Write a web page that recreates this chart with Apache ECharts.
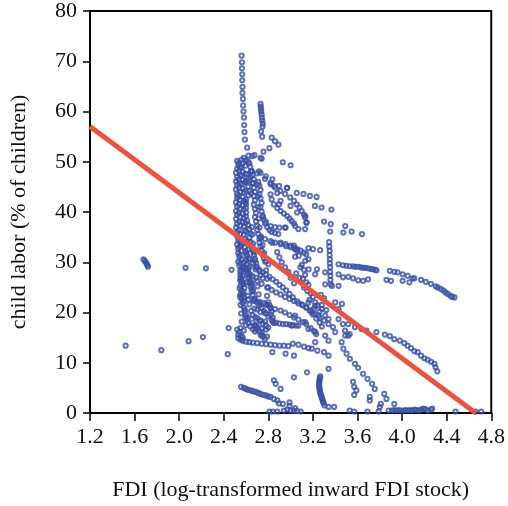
<!DOCTYPE html>
<html><head><meta charset="utf-8">
<script src="https://cdn.jsdelivr.net/npm/echarts@6/dist/echarts.min.js"></script>
<style>html,body{margin:0;padding:0;background:#fff}#c{width:508px;height:506px}</style>
</head><body><div id="c"></div>
<script>
const xTicks = ['1.2','1.6','2.0','2.4','2.8','3.2','3.6','4.0','4.4','4.8'];
const yTicks = ['0','10','20','30','40','50','60','70','80'];
const xTitle = 'FDI (log-transformed inward FDI stock)';
const yTitle = 'child labor (% of children)';
const fitLine = [[1.2,57.0],[4.66,0]];

const tallColumn = [[2.56,71.1],[2.563,69.8],[2.563,68.6],[2.566,67.4],[2.566,66.2],[2.568,64.9],[2.568,63.7],[2.572,62.5],[2.574,61.2],[2.577,60.0],[2.581,58.8],[2.583,57.3],[2.586,55.9],[2.59,54.4],[2.61,52.8],[2.622,51.2],[2.63,49.7],[2.65,48.1]];

const upperCluster = [[2.73,61.5],[2.732,61.0],[2.735,60.5],[2.736,60.0],[2.74,59.4],[2.742,58.8],[2.745,58.2],[2.75,57.6],[2.748,57.0],[2.735,56.0],[2.745,55.0],[2.756,52.0],[2.74,50.6],[2.676,51.3],[2.81,52.7],[2.83,54.8],[2.86,54.1],[2.89,53.4],[2.93,49.9],[3.0,49.3],[2.58,50.8],[2.6,50.3],[2.62,50.0],[2.656,51.1],[2.73,50.8],[2.644,48.1],[2.6,46.2],[2.66,45.8],[2.717,48.1],[2.777,47.1],[2.836,46.5],[2.895,45.2],[2.97,44.8]];

const denseCore = [
[2.52,50.2],[2.53,49.4],[2.52,48.6],[2.51,47.8],[2.52,47.0],[2.51,46.1],[2.52,45.3],[2.51,44.5],[2.52,43.6],[2.52,42.8],[2.51,41.9],[2.52,41.1],[2.51,40.2],[2.52,39.4],[2.51,38.6],[2.52,37.7],[2.51,36.9],[2.52,36.0],[2.52,35.2],[2.53,34.4],[2.52,33.5],[2.53,32.7],[2.53,31.8],[2.54,31.0],[2.53,30.1],[2.54,29.3],[2.55,28.4],[2.55,27.6],[2.56,26.7],[2.57,25.9],
[2.56,50.4],[2.57,49.7],[2.56,48.9],[2.57,48.0],[2.56,47.2],[2.57,46.4],[2.56,45.5],[2.57,44.7],[2.58,43.9],[2.57,43.0],[2.58,42.2],[2.57,41.3],[2.58,40.5],[2.57,39.7],[2.58,38.8],[2.57,38.0],[2.58,37.1],[2.59,36.3],[2.58,35.5],[2.59,34.6],[2.6,33.8],[2.59,33.0],[2.6,32.1],[2.61,31.3],[2.6,30.4],[2.61,29.6],[2.62,28.8],[2.62,27.9],[2.63,27.1],[2.64,26.2],[2.65,25.4],[2.66,24.6],
[2.61,47.5],[2.62,46.7],[2.61,45.9],[2.62,45.0],[2.63,44.2],[2.62,43.3],[2.6,42.5],[2.6,41.6],[2.6,40.8],[2.6,39.9],[2.6,39.1],[2.61,38.3],[2.62,37.4],[2.63,36.6],[2.64,35.7],[2.63,34.9],[2.64,34.0],[2.65,33.2],[2.66,32.4],[2.67,31.5],[2.68,30.7],[2.69,29.9],[2.7,29.0],[2.72,28.2],[2.73,27.5],[2.75,26.8],
[2.65,48.2],[2.66,47.4],[2.67,46.5],[2.66,45.7],[2.67,44.8],[2.68,44.0],[2.67,43.2],[2.68,42.3],[2.67,41.5],[2.68,40.6],[2.69,39.8],[2.68,39.0],[2.69,38.1],[2.7,37.3],[2.7,36.4],[2.71,35.6],[2.72,34.7],[2.72,33.9],[2.73,33.1],[2.74,32.3],[2.75,31.5],[2.76,30.8],[2.78,30.2],[2.8,29.6],
[2.71,46.0],[2.72,45.2],[2.73,44.4],[2.72,43.5],[2.73,42.7],[2.74,41.8],[2.73,41.0],[2.74,40.1],[2.75,39.3],[2.76,38.5],[2.77,37.7],[2.79,37.0],[2.81,36.4],[2.83,36.0],[2.86,35.8],[2.89,35.6],
[2.55,27.0],[2.56,26.1],[2.55,25.3],[2.56,24.4],[2.57,23.6],[2.56,22.7],[2.57,21.9],[2.58,21.0],[2.59,20.2],[2.6,19.4],[2.61,18.6],[2.62,17.9],[2.64,17.2],[2.66,16.7],[2.68,16.2],
[2.6,28.5],[2.61,27.7],[2.62,26.8],[2.63,26.0],[2.64,25.1],[2.65,24.3],[2.66,23.5],[2.68,22.7],[2.7,22.0],[2.72,21.4],[2.74,20.9],[2.76,20.3],[2.78,19.8],[2.8,19.2]
];

const denseFill = [
[2.535,49.8],[2.538,48.2],[2.532,46.5],[2.536,44.9],[2.531,43.2],[2.537,41.5],[2.533,39.8],[2.538,38.1],[2.534,36.4],[2.539,34.8],[2.541,33.1],[2.544,31.4],[2.546,29.8],[2.551,28.1],[2.548,26.4],[2.543,24.8],[2.546,23.1],[2.551,21.5],[2.556,19.8],[2.561,18.2],[2.55,16.9],
[2.545,49.0],[2.548,47.4],[2.543,45.7],[2.549,44.0],[2.544,42.4],[2.548,40.7],[2.545,39.0],[2.549,37.3],[2.546,35.6],[2.552,34.0],[2.556,32.3],[2.561,30.6],[2.566,29.0],[2.571,27.3],[2.576,25.6],[2.579,24.0],[2.584,22.3],[2.589,20.6],[2.594,19.0],[2.598,17.5],
[2.593,49.2],[2.596,47.6],[2.591,45.9],[2.597,44.3],[2.594,42.0],[2.596,37.8],[2.603,36.0],[2.611,34.2],[2.618,32.5],[2.626,30.8],[2.634,29.2],[2.641,27.5],[2.654,25.8],[2.662,24.2],[2.671,22.5],[2.676,20.8],[2.682,19.1],[2.691,17.4],
[2.638,49.0],[2.641,47.0],[2.646,43.7],[2.652,37.0],[2.657,35.5],[2.662,33.7],[2.668,32.0],[2.676,30.3],[2.684,28.6],[2.692,26.9],[2.703,25.2],[2.712,23.6],[2.721,21.9],[2.728,20.1],[2.733,18.4],[2.741,16.8],[2.746,15.4],
[2.698,47.7],[2.703,45.5],[2.706,43.1],[2.709,41.0],[2.714,38.7],[2.721,36.9],[2.735,35.1],[2.748,33.4],[2.762,31.8],[2.772,30.1],[2.781,28.4],[2.79,26.7],[2.797,25.0],[2.789,23.3],[2.776,21.6],[2.768,19.9],[2.771,18.2],[2.779,16.6],[2.788,15.2],
[2.585,30.0],[2.575,28.6],[2.605,26.0],[2.585,24.9],[2.615,23.3],[2.63,21.6],[2.645,20.3],[2.62,19.0],[2.66,19.5],[2.7,20.6]
];

const middleRibbons = [
[2.73,47.8],[2.77,46.6],[2.82,45.5],[2.86,44.9],[2.907,44.2],[2.95,43.6],[2.996,42.9],[3.03,42.2],[3.055,41.5],[3.08,40.9],[3.1,40.2],[3.12,39.5],[3.13,38.9],[3.144,37.9],
[2.82,43.5],[2.83,42.5],[2.85,41.5],[2.88,40.8],[2.91,40.2],[2.94,39.7],[2.97,39.2],[2.99,38.7],[3.01,38.2],[3.03,37.7],[3.04,37.2],[3.07,36.6],
[2.75,39.0],[2.78,38.0],[2.82,37.2],[2.86,37.0],[2.9,36.9],[2.95,36.9],
[2.73,34.9],[2.77,34.6],[2.82,34.2],[2.86,33.9],[2.91,33.6],[2.96,33.2],[3.0,33.0],[3.03,32.9],[3.06,32.6],[3.09,32.3],[3.12,31.9],[3.14,31.6],
[2.82,45.8],[2.85,45.2],[2.88,43.8],[2.91,42.2],[2.895,41.5],[2.999,41.2],[3.058,39.9],[3.132,39.2],[3.14,37.9],[2.955,36.9],
[2.836,33.9],[2.91,33.9],[2.955,33.6],[3.0,33.3],[3.04,32.6],[3.073,31.3],
[2.966,44.8],[3.055,43.8],[3.115,43.6],[3.173,43.2],[3.233,43.0],[3.218,41.2],[3.277,40.9],[3.366,40.5],
[3.3,38.1],[3.36,37.6],[3.355,36.1],[3.49,37.2],[3.547,36.1],[3.473,35.9],[3.64,35.6],[3.13,36.6],
[3.03,33.3],[3.06,32.3],[3.04,31.1],[3.16,32.8],[3.2,32.6],[3.265,32.4],
[3.132,30.3],[3.16,30.6],[3.088,29.0],[3.162,28.6],[3.236,28.6],[3.31,28.0],[3.22,27.6],
[3.1,29.5],[3.12,28.5],[3.13,27.5],[3.11,26.7],[3.14,26.0],[3.16,25.5],[3.12,25.0],[3.15,24.3],[3.18,23.8],[3.2,23.1],[3.17,22.5],[3.22,22.0],[3.24,21.4],[3.21,20.8],[3.26,20.2],[3.27,23.5],[3.3,22.8],[3.28,21.5],[3.32,20.5],[3.05,27.8],[3.08,26.9],[3.03,25.8],[3.0,26.9],[2.98,28.1],[2.95,29.0],[2.92,30.0],[2.9,31.0],[2.88,32.0]
];

const lowerBands = [
[2.6,31.6],[2.63,30.6],[2.66,29.8],[2.69,29.0],[2.72,28.5],[2.75,28.0],[2.78,27.6],[2.81,27.1],[2.84,26.6],[2.87,26.1],[2.9,25.5],[2.93,25.0],[2.96,24.4],[2.99,23.7],[3.02,23.0],[3.06,22.2],[3.1,21.6],[3.14,21.0],[3.17,20.4],[3.2,19.6],[3.23,18.8],[3.26,18.0],[3.28,17.2],
[2.58,29.0],[2.62,28.2],[2.66,27.2],[2.7,26.3],[2.74,25.7],[2.79,25.0],[2.83,24.5],[2.87,24.0],[2.91,23.6],[2.95,23.1],[2.99,22.7],[3.03,22.3],[3.07,21.8],[3.11,21.4],[3.14,21.0],[3.18,20.4],[3.22,19.7],[3.26,19.0],[3.3,18.4],[3.34,17.7],[3.38,17.1],
[2.55,23.6],[2.58,23.0],[2.62,22.6],[2.67,22.3],[2.72,22.1],[2.76,21.9],[2.79,21.5],[2.82,21.0],[2.86,20.7],[2.91,20.4],[2.95,20.0],[2.99,19.5],[3.03,19.0],[3.07,18.6],[3.11,18.1],[3.14,17.7],[3.18,16.9],[3.21,16.3],[3.23,15.7],
[2.8,22.0],[2.81,21.4],[2.82,20.8],[2.83,20.2],[2.82,19.6],[2.84,19.0],[2.83,18.5],[2.85,17.9],
[2.66,18.0],[2.68,17.5],[2.7,17.1],[2.69,16.6],[2.72,16.3],[2.74,16.0],[2.73,15.5],[2.75,15.2],[2.77,14.8],[2.7,18.9],[2.72,18.4],[2.75,17.8],[2.78,17.4],[2.8,17.0],
[2.53,14.9],[2.55,14.6],[2.57,14.4],[2.6,14.2],[2.63,14.1],[2.66,14.0],[2.7,13.9],[2.74,13.8],[2.78,13.7],[2.82,13.6],[2.86,13.5],[2.9,13.4],[2.94,13.4],[2.98,13.3],
[2.84,18.2],[2.87,18.0],[2.9,17.8],[2.93,17.7],[2.96,17.7],[2.99,17.6],[3.02,17.5],[3.05,17.4],
[2.52,16.6],[2.54,16.1],[2.53,15.6],[2.56,15.3],[2.58,16.4],[2.57,15.0],
[3.04,19.4],[3.01,17.4],[3.07,17.4],[3.13,18.1],[3.16,16.7],[3.22,16.1],[3.22,14.1],[3.31,15.4],[3.34,14.4],[3.4,16.1],[3.49,15.4],[3.53,15.7],
[3.16,22.0],[3.22,21.3],[3.28,20.7],[3.19,20.0],[3.25,19.4],[3.31,19.4],[3.34,18.7],
[2.836,12.1],[2.955,11.8],[3.03,11.4],
[3.02,13.8],[3.07,13.6],[3.12,13.2],[3.16,12.9],[3.19,12.8],[3.24,12.4],[3.30,12.1],[3.34,11.4]
];

const rightRows = [
[3.43,29.6],[3.47,29.4],[3.5,29.3],[3.53,29.2],[3.56,29.2],[3.58,29.1],[3.605,29.1],[3.63,29.0],[3.65,28.9],[3.67,28.9],[3.695,28.8],[3.72,28.7],[3.74,28.6],[3.76,28.5],[3.77,28.4],
[3.89,28.3],[3.93,28.1],[3.96,28.0],[4.005,27.6],[4.05,27.3],[4.11,26.8],[4.17,26.5],[4.213,26.1],[4.258,25.7],[4.302,25.2],[4.32,25.0],[4.347,24.7],[4.37,24.4],[4.39,24.0],[4.41,23.7],[4.435,23.3],[4.45,23.1],[4.47,23.0],
[3.43,27.6],[3.47,27.0],[3.517,27.1],[3.56,26.8],[3.606,26.4],[3.65,26.3],[3.695,26.6],[3.86,26.5],[3.9,26.3],[4.005,26.3],[4.066,26.0],[4.095,26.8],
[3.31,25.6],[3.37,25.3],[3.43,25.3],[3.46,21.7],[3.4,22.0],[3.43,20.7],
[3.345,34.0],[3.347,33.1],[3.35,32.3],[3.35,31.4],[3.352,30.6],[3.352,29.8],[3.355,29.0],[3.355,28.1],[3.357,27.3],[3.357,26.5],[3.36,25.6]
];

const rightLower = [
[3.77,16.1],[3.845,15.6],[3.89,15.3],[3.93,14.7],[3.98,14.4],[4.02,13.9],[4.05,13.4],[4.08,12.9],[4.11,12.3],[4.14,12.1],[4.17,11.4],[4.2,10.9],[4.23,10.6],[4.26,10.2],[4.29,9.8],[4.3,9.1],[4.316,8.3],
[3.517,17.7],[3.577,17.1],[3.636,16.7],[3.68,16.4],
[3.43,18.7],[3.47,17.7],[3.488,16.4],[3.517,15.4],[3.458,14.1],[3.473,12.8],[3.502,11.8],[3.532,10.8],[3.577,9.8],[3.606,9.0],[3.65,7.8],[3.69,6.8],[3.73,5.8],[3.755,4.8],
[3.56,6.2],[3.57,5.2],[3.59,4.5],[3.57,3.6],
[3.71,3.2],[3.71,2.5],[3.84,3.8],[3.86,2.8],[3.93,1.8],[3.81,1.8],[3.8,1.2],
[3.147,8.1],[3.03,7.1],[3.34,8.8],
[3.266,7.3],[3.262,7.0],[3.26,6.7],[3.258,6.3],[3.257,6.0],[3.256,5.6],[3.257,5.3],[3.258,5.0],[3.26,4.7],[3.263,4.3],[3.266,4.0],[3.27,3.7],[3.275,3.4],[3.28,3.0],[3.286,2.7],[3.29,2.3],[3.295,2.0],[3.304,1.5],
[3.34,1.2],[3.39,1.2]
];

const bottomRows = [
[2.555,5.2],[2.58,5.0],[2.6,4.8],[2.62,4.6],[2.644,4.5],[2.665,4.3],[2.688,4.2],[2.71,4.0],[2.73,3.8],[2.755,3.6],[2.777,3.5],[2.8,3.3],[2.82,3.2],[2.85,2.8],[2.88,2.5],[2.895,1.9],
[2.85,6.5],[2.866,5.8],[2.91,4.8],[2.93,1.8],[2.99,2.1],
[2.81,0.3],[2.84,0.3],[2.88,0.3],[2.94,0.5],[2.97,0.7],[3.0,0.5],[3.03,0.5],[3.06,0.4],[3.09,0.3],[2.99,1.4],[3.04,1.0],
[3.53,0.5],[3.57,0.3],[3.69,0.3],[3.79,0.3],[3.88,0.5],[3.91,0.5],[3.93,0.6],[3.95,0.5],[3.97,0.6],[3.99,0.5],[4.01,0.5],[4.03,0.6],[4.05,0.5],[4.07,0.6],[4.09,0.5],[4.11,0.7],[4.13,0.6],[4.15,0.5],[4.17,0.7],[4.19,0.9],[4.21,0.8],[4.23,0.5],[4.26,0.7],[4.27,0.9],[4.48,0.3],[4.66,0.3],[4.71,0.3]
];

const leftOutliers = [[1.68,30.6],[1.69,30.3],[1.70,30.0],[1.71,29.7],[1.715,29.4],[1.72,29.1],[2.057,28.9],[2.24,28.8],[2.47,28.5],[1.52,13.4],[1.84,12.5],[2.084,14.3],[2.213,15.1],[2.444,16.9],[2.436,11.7],[2.555,33.5]];

const points = [].concat(tallColumn, upperCluster, denseCore, denseFill, middleRibbons, lowerBands, rightRows, rightLower, bottomRows, leftOutliers);

const font = "'Liberation Serif','Times New Roman',serif";
const chart = echarts.init(document.getElementById('c'), null, {renderer:'canvas'});
chart.setOption({
  animation:false,
  backgroundColor:'#fff',
  grid:{left:90,right:14,top:11,bottom:92,show:true,borderColor:'#000',borderWidth:2,backgroundColor:'transparent'},
  xAxis:{type:'value',min:1.2,max:4.8,interval:0.4,
    name:xTitle,nameLocation:'middle',nameGap:66,
    nameTextStyle:{fontFamily:font,fontSize:22,color:'#111'},
    axisLine:{show:true,lineStyle:{color:'#000',width:2}},
    axisTick:{show:true,inside:false,length:8,lineStyle:{color:'#000',width:1.5}},
    axisLabel:{margin:13,fontFamily:font,fontSize:22,color:'#111',formatter:(v)=>xTicks.find(t=>Math.abs(parseFloat(t)-v)<1e-6)||''},
    splitLine:{show:false}},
  yAxis:{type:'value',min:0,max:80,interval:10,
    name:yTitle,nameLocation:'middle',nameGap:60,nameRotate:90,
    nameTextStyle:{fontFamily:font,fontSize:22,color:'#111'},
    axisLine:{show:true,lineStyle:{color:'#000',width:2}},
    axisTick:{show:true,inside:false,length:7,lineStyle:{color:'#000',width:1.5}},
    axisLabel:{margin:13,fontFamily:font,fontSize:22,color:'#111',formatter:(v)=>yTicks.find(t=>Math.abs(parseFloat(t)-v)<1e-6)||''},
    splitLine:{show:false}},
  series:[
    {type:'scatter',data:points,symbol:'circle',symbolSize:4.2,
      itemStyle:{color:'rgba(0,0,0,0)',borderColor:'#3a4fa2',borderWidth:2},z:2},
    {type:'line',data:fitLine,symbol:'none',lineStyle:{color:'#ea5340',width:5},z:3}
  ]
});
</script></body></html>
